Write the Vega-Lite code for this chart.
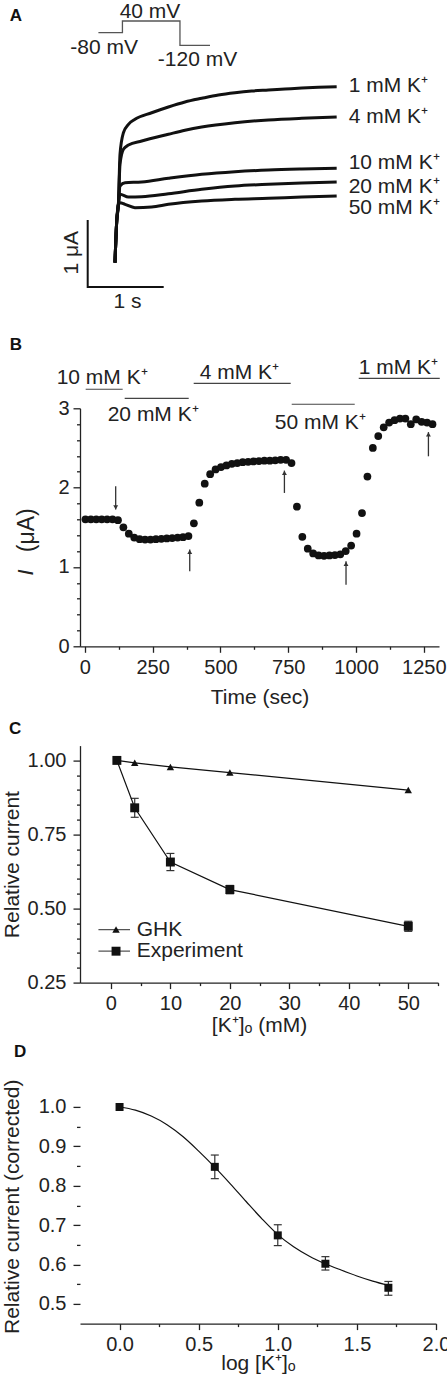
{
  "$schema": "https://vega.github.io/schema/vega-lite/v6.json",
  "padding": {"left": 0, "top": 0, "right": 0, "bottom": 0},
  "background": "white",
  "config": {
    "view": {"stroke": null},
    "font": "Liberation Sans",
    "axis": {
      "labelFont": "Liberation Sans", "titleFont": "Liberation Sans",
      "labelFontSize": 20, "titleFontSize": 21, "titleFontWeight": "normal",
      "labelColor": "#222", "titleColor": "#222", "domainColor": "#222", "tickColor": "#222",
      "domainWidth": 1.3, "tickWidth": 1.3, "grid": false, "labelFlush": false, "labelOverlap": false
    },
    "text": {"font": "Liberation Sans", "fontSize": 21, "color": "#222"}
  },
  "resolve": {"scale": {"shape": "independent", "size": "independent"}},
  "datasets": {
    "protocol": [
      {"i": 0, "x": 0.141, "y": 3.796}, {"i": 1, "x": 0.457, "y": 3.796}, {"i": 2, "x": 0.457, "y": 3.970},
      {"i": 3, "x": 1.214, "y": 3.970}, {"i": 4, "x": 1.214, "y": 3.607}, {"i": 5, "x": 1.609, "y": 3.607}
    ],
    "protocolLabels": [
      {"label": "40 mV", "x": 0.820, "y": 4.018},
      {"label": "-80 mV", "x": 0.217, "y": 3.482},
      {"label": "-120 mV", "x": 1.445, "y": 3.299}
    ],
    "traces": [
      {"trace": "1 mM", "x": 0.359, "y": 0.363}, {"trace": "1 mM", "x": 0.382, "y": 0.985}, {"trace": "1 mM", "x": 0.404, "y": 1.234},
      {"trace": "1 mM", "x": 0.425, "y": 1.981}, {"trace": "1 mM", "x": 0.470, "y": 2.303}, {"trace": "1 mM", "x": 0.536, "y": 2.428},
      {"trace": "1 mM", "x": 0.622, "y": 2.503}, {"trace": "1 mM", "x": 0.842, "y": 2.601}, {"trace": "1 mM", "x": 1.062, "y": 2.687},
      {"trace": "1 mM", "x": 1.280, "y": 2.761}, {"trace": "1 mM", "x": 1.5, "y": 2.816}, {"trace": "1 mM", "x": 1.720, "y": 2.866},
      {"trace": "1 mM", "x": 1.938, "y": 2.9}, {"trace": "1 mM", "x": 2.158, "y": 2.925}, {"trace": "1 mM", "x": 2.378, "y": 2.94},
      {"trace": "1 mM", "x": 2.596, "y": 2.955}, {"trace": "1 mM", "x": 2.816, "y": 2.97}, {"trace": "1 mM", "x": 3.036, "y": 2.981},
      {"trace": "1 mM", "x": 3.276, "y": 2.99},
      {"trace": "4 mM", "x": 0.359, "y": 0.363}, {"trace": "4 mM", "x": 0.382, "y": 0.985}, {"trace": "4 mM", "x": 0.404, "y": 1.234},
      {"trace": "4 mM", "x": 0.425, "y": 1.831}, {"trace": "4 mM", "x": 0.470, "y": 2.055}, {"trace": "4 mM", "x": 0.536, "y": 2.119},
      {"trace": "4 mM", "x": 0.711, "y": 2.179}, {"trace": "4 mM", "x": 1.062, "y": 2.279}, {"trace": "4 mM", "x": 1.280, "y": 2.339},
      {"trace": "4 mM", "x": 1.5, "y": 2.388}, {"trace": "4 mM", "x": 1.938, "y": 2.452}, {"trace": "4 mM", "x": 2.378, "y": 2.493},
      {"trace": "4 mM", "x": 2.816, "y": 2.518}, {"trace": "4 mM", "x": 3.276, "y": 2.537},
      {"trace": "10 mM", "x": 0.359, "y": 0.363}, {"trace": "10 mM", "x": 0.382, "y": 0.985}, {"trace": "10 mM", "x": 0.404, "y": 1.234},
      {"trace": "10 mM", "x": 0.425, "y": 1.507}, {"trace": "10 mM", "x": 0.491, "y": 1.557}, {"trace": "10 mM", "x": 0.711, "y": 1.567},
      {"trace": "10 mM", "x": 1.062, "y": 1.622}, {"trace": "10 mM", "x": 1.5, "y": 1.682}, {"trace": "10 mM", "x": 1.938, "y": 1.721},
      {"trace": "10 mM", "x": 2.378, "y": 1.746}, {"trace": "10 mM", "x": 2.816, "y": 1.761}, {"trace": "10 mM", "x": 3.276, "y": 1.772},
      {"trace": "20 mM", "x": 0.359, "y": 0.363}, {"trace": "20 mM", "x": 0.382, "y": 0.985}, {"trace": "20 mM", "x": 0.404, "y": 1.234},
      {"trace": "20 mM", "x": 0.425, "y": 1.384}, {"trace": "20 mM", "x": 0.536, "y": 1.343}, {"trace": "20 mM", "x": 0.711, "y": 1.348},
      {"trace": "20 mM", "x": 1.062, "y": 1.393}, {"trace": "20 mM", "x": 1.5, "y": 1.458}, {"trace": "20 mM", "x": 1.938, "y": 1.507},
      {"trace": "20 mM", "x": 2.378, "y": 1.533}, {"trace": "20 mM", "x": 2.816, "y": 1.552}, {"trace": "20 mM", "x": 3.276, "y": 1.567},
      {"trace": "50 mM", "x": 0.359, "y": 0.363}, {"trace": "50 mM", "x": 0.382, "y": 0.985}, {"trace": "50 mM", "x": 0.404, "y": 1.234},
      {"trace": "50 mM", "x": 0.425, "y": 1.258}, {"trace": "50 mM", "x": 0.491, "y": 1.234}, {"trace": "50 mM", "x": 0.622, "y": 1.184},
      {"trace": "50 mM", "x": 0.842, "y": 1.194}, {"trace": "50 mM", "x": 1.062, "y": 1.234}, {"trace": "50 mM", "x": 1.5, "y": 1.284},
      {"trace": "50 mM", "x": 1.938, "y": 1.309}, {"trace": "50 mM", "x": 2.378, "y": 1.324}, {"trace": "50 mM", "x": 2.816, "y": 1.343},
      {"trace": "50 mM", "x": 3.276, "y": 1.358}
    ],
    "traceLabels": [
      {"label": "1 mM K⁺", "x": 3.434, "y": 2.910},
      {"label": "4 mM K⁺", "x": 3.434, "y": 2.452},
      {"label": "10 mM K⁺", "x": 3.434, "y": 1.756},
      {"label": "20 mM K⁺", "x": 3.434, "y": 1.407},
      {"label": "50 mM K⁺", "x": 3.434, "y": 1.094}
    ],
    "scaleBar": [{"i": 0, "x": 0, "y": 1}, {"i": 1, "x": 0, "y": 0}, {"i": 2, "x": 1, "y": 0}],
    "scaleTime": [{"label": "1 s", "x": 0.524, "y": -0.309}],
    "scaleCurrent": [{"label": "1 μA", "x": -0.122, "y": 0.512}],
    "current": [
      {"x": 2, "y": 1.60}, {"x": 22, "y": 1.60}, {"x": 42, "y": 1.60}, {"x": 62, "y": 1.60}, {"x": 82, "y": 1.60},
      {"x": 102, "y": 1.60}, {"x": 122, "y": 1.59}, {"x": 142, "y": 1.50}, {"x": 162, "y": 1.42}, {"x": 182, "y": 1.37},
      {"x": 202, "y": 1.35}, {"x": 222, "y": 1.345}, {"x": 242, "y": 1.345}, {"x": 262, "y": 1.35}, {"x": 282, "y": 1.355},
      {"x": 302, "y": 1.36}, {"x": 322, "y": 1.365}, {"x": 342, "y": 1.37}, {"x": 362, "y": 1.375}, {"x": 382, "y": 1.39},
      {"x": 402, "y": 1.55}, {"x": 422, "y": 1.81}, {"x": 442, "y": 2.05}, {"x": 462, "y": 2.17}, {"x": 482, "y": 2.23},
      {"x": 502, "y": 2.26}, {"x": 522, "y": 2.28}, {"x": 542, "y": 2.30}, {"x": 562, "y": 2.31}, {"x": 582, "y": 2.32},
      {"x": 602, "y": 2.325}, {"x": 622, "y": 2.33}, {"x": 642, "y": 2.335}, {"x": 662, "y": 2.34}, {"x": 682, "y": 2.34},
      {"x": 702, "y": 2.345}, {"x": 722, "y": 2.35}, {"x": 742, "y": 2.35}, {"x": 762, "y": 2.31}, {"x": 782, "y": 1.76},
      {"x": 802, "y": 1.38}, {"x": 822, "y": 1.23}, {"x": 842, "y": 1.17}, {"x": 862, "y": 1.145}, {"x": 882, "y": 1.14},
      {"x": 902, "y": 1.145}, {"x": 922, "y": 1.15}, {"x": 942, "y": 1.16}, {"x": 962, "y": 1.20}, {"x": 982, "y": 1.27},
      {"x": 1002, "y": 1.42}, {"x": 1022, "y": 1.68}, {"x": 1042, "y": 2.14}, {"x": 1062, "y": 2.50}, {"x": 1082, "y": 2.65},
      {"x": 1102, "y": 2.76}, {"x": 1122, "y": 2.82}, {"x": 1142, "y": 2.85}, {"x": 1162, "y": 2.87}, {"x": 1182, "y": 2.87},
      {"x": 1202, "y": 2.80}, {"x": 1222, "y": 2.86}, {"x": 1242, "y": 2.83}, {"x": 1262, "y": 2.82}, {"x": 1282, "y": 2.80}
    ],
    "solutions": [
      {"solution": "10 mM K⁺", "x": 3, "x2": 139.4, "y": 3.240},
      {"solution": "20 mM K⁺", "x": 146.8, "x2": 382.9, "y": 3.126},
      {"solution": "4 mM K⁺", "x": 401.3, "x2": 759.1, "y": 3.315},
      {"solution": "50 mM K⁺", "x": 762.8, "x2": 995.2, "y": 3.051},
      {"solution": "1 mM K⁺", "x": 1010, "x2": 1308.8, "y": 3.378}
    ],
    "solutionLabels": [
      {"label": "10 mM K⁺", "x": -104, "y": 3.303},
      {"label": "20 mM K⁺", "x": 84.1, "y": 2.845},
      {"label": "4 mM K⁺", "x": 423.5, "y": 3.374},
      {"label": "50 mM K⁺", "x": 700.1, "y": 2.744},
      {"label": "1 mM K⁺", "x": 1010, "y": 3.432}
    ],
    "arrows": [
      {"x": 113.6, "y": 2.017, "y2": 1.723},
      {"x": 386.7, "y": 0.945, "y2": 1.219},
      {"x": 735.9, "y": 1.933, "y2": 2.215},
      {"x": 963.1, "y": 0.777, "y2": 1.071},
      {"x": 1267, "y": 2.395, "y2": 2.70}
    ],
    "arrowHeadsDown": [
      {"x": 113.6, "y": 1.75}
    ],
    "arrowHeadsUp": [
      {"x": 386.7, "y": 1.19},
      {"x": 735.9, "y": 2.185},
      {"x": 963.1, "y": 1.04},
      {"x": 1267, "y": 2.67}
    ],
    "axisTitleB": [{"label": "I", "x": -190.7, "y": 0.93}],
    "relC": [
      {"series": "GHK", "x": 1, "y": 1.0}, {"series": "GHK", "x": 4, "y": 0.992}, {"series": "GHK", "x": 10, "y": 0.978},
      {"series": "GHK", "x": 20, "y": 0.959}, {"series": "GHK", "x": 50, "y": 0.900},
      {"series": "Experiment", "x": 1, "y": 1.0}, {"series": "Experiment", "x": 4, "y": 0.840}, {"series": "Experiment", "x": 10, "y": 0.657},
      {"series": "Experiment", "x": 20, "y": 0.564}, {"series": "Experiment", "x": 50, "y": 0.440}
    ],
    "errC": [
      {"x": 4, "lo": 0.808, "hi": 0.872}, {"x": 10, "lo": 0.628, "hi": 0.686},
      {"x": 20, "lo": 0.550, "hi": 0.578}, {"x": 50, "lo": 0.423, "hi": 0.457}
    ],
    "legendLines": [
      {"series": "GHK", "x": -2.10, "x2": 3.21, "y": 0.429},
      {"series": "Experiment", "x": -2.10, "x2": 3.21, "y": 0.356}
    ],
    "legendSymbols": [
      {"series": "GHK", "x": 0.86, "y": 0.429},
      {"series": "Experiment", "x": 0.86, "y": 0.356}
    ],
    "legendText": [
      {"label": "GHK", "x": 4.34, "y": 0.429},
      {"label": "Experiment", "x": 4.34, "y": 0.356}
    ],
    "fitD": [
      {"x": 0, "y": 1.0}, {"x": 0.1, "y": 0.992}, {"x": 0.2, "y": 0.977}, {"x": 0.3, "y": 0.955}, {"x": 0.4, "y": 0.925},
      {"x": 0.5, "y": 0.888}, {"x": 0.6, "y": 0.848}, {"x": 0.7, "y": 0.805}, {"x": 0.8, "y": 0.76}, {"x": 0.9, "y": 0.716},
      {"x": 1.0, "y": 0.676}, {"x": 1.1, "y": 0.645}, {"x": 1.2, "y": 0.621}, {"x": 1.3, "y": 0.602}, {"x": 1.4, "y": 0.586},
      {"x": 1.5, "y": 0.571}, {"x": 1.6, "y": 0.558}, {"x": 1.7, "y": 0.547}
    ],
    "pointsD": [
      {"x": 0, "y": 1.0}, {"x": 0.602, "y": 0.848}, {"x": 1.0, "y": 0.674}, {"x": 1.301, "y": 0.602}, {"x": 1.699, "y": 0.541}
    ],
    "errD": [
      {"x": 0.602, "lo": 0.818, "hi": 0.878}, {"x": 1.0, "lo": 0.648, "hi": 0.701},
      {"x": 1.301, "lo": 0.586, "hi": 0.620}, {"x": 1.699, "lo": 0.522, "hi": 0.557}
    ]
  },
  "vconcat": [
    {
      "width": 359,
      "height": 307.7,
      "encoding": {
        "x": {"field": "x", "type": "quantitative", "scale": {"domain": [-0.1013, 4.6224], "nice": false, "zero": false}, "axis": null},
        "y": {"field": "y", "type": "quantitative", "scale": {"domain": [-0.3239, 4.2687], "nice": false, "zero": false}, "axis": null}
      },
      "layer": [
        {"data": {"name": "protocol"}, "mark": {"type": "line", "color": "#555", "strokeWidth": 1.3}, "encoding": {"order": {"field": "i"}}},
        {"data": {"name": "traces"}, "mark": {"type": "line", "interpolate": "monotone", "color": "#111", "strokeWidth": 3}, "encoding": {"detail": {"field": "trace"}}},
        {"data": {"name": "scaleBar"}, "mark": {"type": "line", "color": "#111", "strokeWidth": 2}, "encoding": {"order": {"field": "i"}}},
        {"data": {"name": "protocolLabels"}, "mark": {"type": "text", "align": "center", "baseline": "alphabetic"}, "encoding": {"text": {"field": "label"}}},
        {"data": {"name": "traceLabels"}, "mark": {"type": "text", "align": "left", "baseline": "alphabetic"}, "encoding": {"text": {"field": "label"}}},
        {"data": {"name": "scaleTime"}, "mark": {"type": "text", "align": "center", "baseline": "alphabetic"}, "encoding": {"text": {"field": "label"}}},
        {"data": {"name": "scaleCurrent"}, "mark": {"type": "text", "align": "center", "baseline": "alphabetic", "angle": 270}, "encoding": {"text": {"field": "label"}}},
        {"data": {"values": [{"label": "A", "x": -1.026, "y": 3.97}]}, "mark": {"type": "text", "align": "left", "baseline": "alphabetic", "fontWeight": "bold", "fontSize": 17, "color": "#111"}, "encoding": {"text": {"field": "label"}}}
      ]
    },
    {
      "width": 359,
      "height": 238,
      "encoding": {
        "x": {"field": "x", "type": "quantitative", "scale": {"domain": [-18, 1306], "nice": false, "zero": false},
          "axis": {"title": "Time (sec)", "values": [0, 125, 250, 375, 500, 625, 750, 875, 1000, 1125, 1250],
            "labelExpr": "datum.value % 250 === 0 ? format(datum.value, 'd') : ''",
            "tickSize": {"condition": {"test": "datum.value % 250 === 0", "value": 6}, "value": 3},
            "labelPadding": 5, "titleY": 57, "titleBaseline": "alphabetic"}},
        "y": {"field": "y", "type": "quantitative", "scale": {"domain": [0, 3], "nice": false, "zero": false},
          "axis": {"title": "(μA)", "values": [0, 0.2, 0.4, 0.6, 0.8, 1, 1.2, 1.4, 1.6, 1.8, 2, 2.2, 2.4, 2.6, 2.8, 3],
            "labelExpr": "datum.value % 1 === 0 ? format(datum.value, 'd') : ''",
            "tickSize": {"condition": {"test": "datum.value % 1 === 0", "value": 7}, "value": 3.5},
            "labelPadding": 4, "titleFontSize": 23, "titleX": -46.6, "titleY": 121.5, "titleBaseline": "alphabetic"}}
      },
      "layer": [
        {"data": {"name": "solutions"}, "mark": {"type": "rule", "color": "#444", "strokeWidth": 1.2}, "encoding": {"x2": {"field": "x2"}}},
        {"data": {"name": "solutionLabels"}, "mark": {"type": "text", "align": "left", "baseline": "alphabetic"}, "encoding": {"text": {"field": "label"}}},
        {"data": {"name": "arrows"}, "mark": {"type": "rule", "color": "#333", "strokeWidth": 1.3}, "encoding": {"y2": {"field": "y2"}}},
        {"data": {"name": "arrowHeadsDown"}, "mark": {"type": "point", "shape": "triangle-down", "filled": true, "size": 24, "color": "#333", "opacity": 1}},
        {"data": {"name": "arrowHeadsUp"}, "mark": {"type": "point", "shape": "triangle-up", "filled": true, "size": 24, "color": "#333", "opacity": 1}},
        {"data": {"name": "current"}, "mark": {"type": "circle", "size": 60, "color": "#111", "opacity": 1}},
        {"data": {"name": "axisTitleB"}, "mark": {"type": "text", "align": "center", "baseline": "alphabetic", "angle": 270, "fontStyle": "italic", "fontSize": 22}, "encoding": {"text": {"field": "label"}}},
        {"data": {"values": [{"label": "B", "x": -277.4, "y": 3.731}]}, "mark": {"type": "text", "align": "left", "baseline": "alphabetic", "fontWeight": "bold", "fontSize": 17, "color": "#111"}, "encoding": {"text": {"field": "label"}}}
      ]
    },
    {
      "width": 358,
      "height": 237,
      "encoding": {
        "x": {"field": "x", "type": "quantitative", "scale": {"domain": [-5.2, 55], "nice": false, "zero": false},
          "axis": {"title": "[K⁺]ₒ (mM)", "values": [0, 5, 10, 15, 20, 25, 30, 35, 40, 45, 50, 55],
            "labelExpr": "datum.value % 10 === 0 ? format(datum.value, 'd') : ''",
            "tickSize": {"condition": {"test": "datum.value % 10 === 0", "value": 6}, "value": 3},
            "labelPadding": 5, "titleY": 48.5, "titleBaseline": "alphabetic"}},
        "y": {"field": "y", "type": "quantitative", "scale": {"domain": [0.25, 1.05], "nice": false, "zero": false},
          "axis": {"title": "Relative current", "values": [0.25, 0.3, 0.35, 0.4, 0.45, 0.5, 0.55, 0.6, 0.65, 0.7, 0.75, 0.8, 0.85, 0.9, 0.95, 1],
            "labelExpr": "abs(datum.value * 4 - round(datum.value * 4)) < 0.001 ? format(datum.value, '.2f') : ''",
            "tickSize": {"condition": {"test": "abs(datum.value * 4 - round(datum.value * 4)) < 0.001", "value": 7}, "value": 3.5},
            "labelPadding": 7, "titleX": -61.5, "titleBaseline": "alphabetic"}}
      },
      "layer": [
        {"data": {"name": "errC"}, "mark": {"type": "rule", "color": "#333", "strokeWidth": 1.2},
          "encoding": {"y": {"field": "lo", "type": "quantitative", "scale": {"domain": [0.25, 1.05], "nice": false, "zero": false}}, "y2": {"field": "hi"}}},
        {"data": {"name": "errC"}, "mark": {"type": "tick", "orient": "horizontal", "size": 8, "thickness": 1.2, "color": "#333", "opacity": 1},
          "encoding": {"y": {"field": "lo", "type": "quantitative", "scale": {"domain": [0.25, 1.05], "nice": false, "zero": false}}}},
        {"data": {"name": "errC"}, "mark": {"type": "tick", "orient": "horizontal", "size": 8, "thickness": 1.2, "color": "#333", "opacity": 1},
          "encoding": {"y": {"field": "hi", "type": "quantitative", "scale": {"domain": [0.25, 1.05], "nice": false, "zero": false}}}},
        {"data": {"name": "relC"}, "mark": {"type": "line", "color": "#111", "strokeWidth": 1.2}, "encoding": {"detail": {"field": "series"}}},
        {"data": {"name": "relC"}, "mark": {"type": "point", "filled": true, "color": "#111", "opacity": 1},
          "encoding": {
            "shape": {"field": "series", "type": "nominal", "scale": {"domain": ["GHK", "Experiment"], "range": ["triangle-up", "square"]}, "legend": null},
            "size": {"field": "series", "type": "nominal", "scale": {"domain": ["GHK", "Experiment"], "range": [55, 80]}, "legend": null}}},
        {"data": {"name": "legendLines"}, "mark": {"type": "rule", "color": "#555", "strokeWidth": 1.3}, "encoding": {"x2": {"field": "x2"}}},
        {"data": {"name": "legendSymbols"}, "mark": {"type": "point", "filled": true, "color": "#111", "opacity": 1},
          "encoding": {
            "shape": {"field": "series", "type": "nominal", "scale": {"domain": ["GHK", "Experiment"], "range": ["triangle-up", "square"]}, "legend": null},
            "size": {"field": "series", "type": "nominal", "scale": {"domain": ["GHK", "Experiment"], "range": [55, 80]}, "legend": null}}},
        {"data": {"name": "legendText"}, "mark": {"type": "text", "align": "left", "baseline": "middle"}, "encoding": {"text": {"field": "label"}}},
        {"data": {"values": [{"label": "C", "x": -17.13, "y": 1.0878}]}, "mark": {"type": "text", "align": "left", "baseline": "alphabetic", "fontWeight": "bold", "fontSize": 17, "color": "#111"}, "encoding": {"text": {"field": "label"}}}
      ]
    },
    {
      "width": 356,
      "height": 241.7,
      "encoding": {
        "x": {"field": "x", "type": "quantitative", "scale": {"domain": [-0.25, 2.0], "nice": false, "zero": false},
          "axis": {"title": "log [K⁺]ₒ", "values": [0, 0.25, 0.5, 0.75, 1, 1.25, 1.5, 1.75, 2],
            "labelExpr": "abs(datum.value * 2 - round(datum.value * 2)) < 0.001 ? format(datum.value, '.1f') : ''",
            "tickSize": {"condition": {"test": "abs(datum.value * 2 - round(datum.value * 2)) < 0.001", "value": 6}, "value": 3},
            "labelPadding": 5, "titleY": 46.2, "titleBaseline": "alphabetic"}},
        "y": {"field": "y", "type": "quantitative", "scale": {"domain": [0.45, 1.0637], "nice": false, "zero": false},
          "axis": {"title": "Relative current (corrected)", "domain": false, "values": [0.5, 0.55, 0.6, 0.65, 0.7, 0.75, 0.8, 0.85, 0.9, 0.95, 1],
            "labelExpr": "abs(datum.value * 10 - round(datum.value * 10)) < 0.001 ? format(datum.value, '.1f') : ''",
            "tickSize": {"condition": {"test": "abs(datum.value * 10 - round(datum.value * 10)) < 0.001", "value": 7}, "value": 3.5},
            "labelPadding": 7, "titleX": -62, "titleY": 124.4, "titleBaseline": "alphabetic"}}
      },
      "layer": [
        {"data": {"values": [{}]}, "mark": {"type": "rule", "color": "#222", "strokeWidth": 1.3},
          "encoding": {"x": {"datum": -0.25, "type": "quantitative"}, "y": {"datum": 0.45, "type": "quantitative"}, "y2": {"datum": 1.05}}},
        {"data": {"name": "fitD"}, "mark": {"type": "line", "interpolate": "monotone", "color": "#111", "strokeWidth": 1.2}},
        {"data": {"name": "errD"}, "mark": {"type": "rule", "color": "#333", "strokeWidth": 1.2},
          "encoding": {"y": {"field": "lo", "type": "quantitative", "scale": {"domain": [0.45, 1.0637], "nice": false, "zero": false}}, "y2": {"field": "hi"}}},
        {"data": {"name": "errD"}, "mark": {"type": "tick", "orient": "horizontal", "size": 8, "thickness": 1.2, "color": "#333", "opacity": 1},
          "encoding": {"y": {"field": "lo", "type": "quantitative", "scale": {"domain": [0.45, 1.0637], "nice": false, "zero": false}}}},
        {"data": {"name": "errD"}, "mark": {"type": "tick", "orient": "horizontal", "size": 8, "thickness": 1.2, "color": "#333", "opacity": 1},
          "encoding": {"y": {"field": "hi", "type": "quantitative", "scale": {"domain": [0.45, 1.0637], "nice": false, "zero": false}}}},
        {"data": {"name": "pointsD"}, "mark": {"type": "square", "size": 64, "color": "#111", "opacity": 1}},
        {"data": {"values": [{"label": "D", "x": -0.6675, "y": 1.126}]}, "mark": {"type": "text", "align": "left", "baseline": "alphabetic", "fontWeight": "bold", "fontSize": 17, "color": "#111"}, "encoding": {"text": {"field": "label"}}}
      ]
    }
  ],
  "spacing": 99.3,
  "bounds": "flush"
}
